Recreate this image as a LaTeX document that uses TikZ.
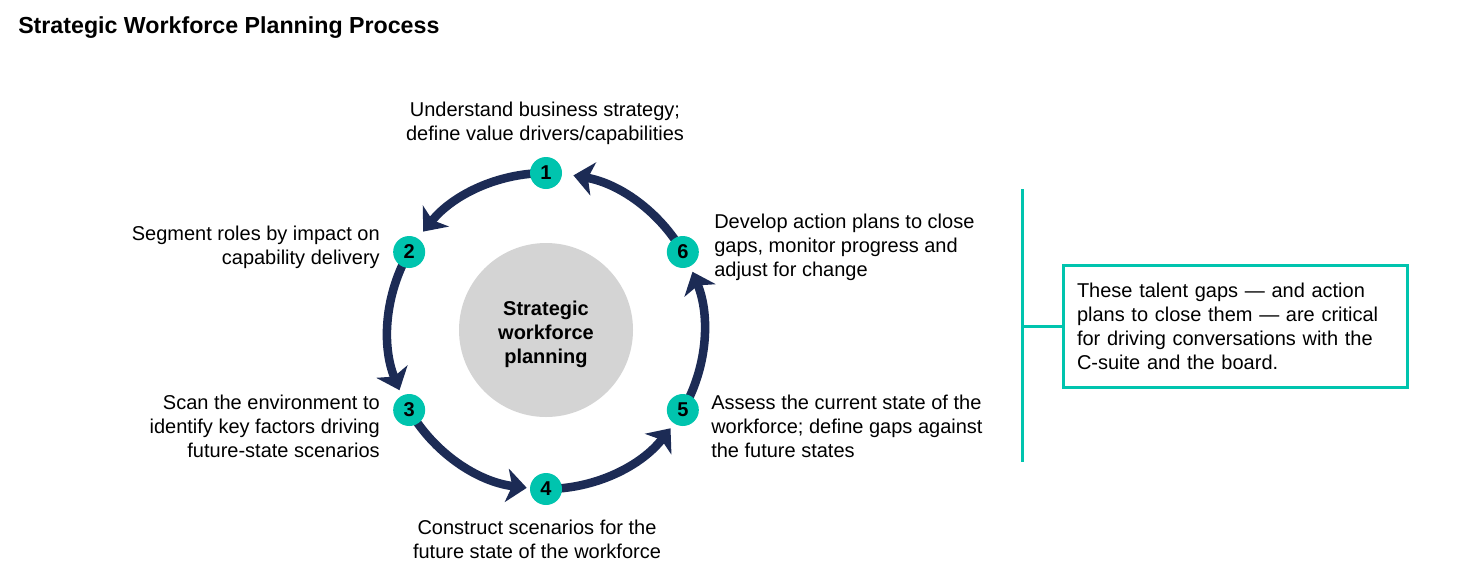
\documentclass[tikz,border=0pt]{standalone}
\usepackage{fontspec}
\setmainfont{Liberation Sans}
\usetikzlibrary{arrows.meta}
\definecolor{tealc}{RGB}{0,196,174}
\definecolor{navyc}{RGB}{28,43,85}
\definecolor{hubgray}{RGB}{212,212,212}
\begin{document}
\begin{tikzpicture}[x=0.75pt,y=-0.75pt,
  every node/.style={font=\fontsize{15}{18}\selectfont, inner sep=0pt},
  marker/.style={circle, fill=tealc, minimum size=24pt, font=\fontsize{15}{18}\selectfont\bfseries},
  hub/.style={circle, fill=hubgray, minimum size=130.5pt, align=center, font=\fontsize{15}{18}\selectfont\bfseries},
  flow/.style={navyc, line width=6.4pt, -{Stealth[length=15pt,width=25pt,inset=4pt]}},
  lblr/.style={align=right, anchor=east},
  lbll/.style={align=left, anchor=west},
  lblc/.style={align=center},
  notebox/.style={draw=tealc, line width=2.25pt, text width=237pt, align=left, inner xsep=10.5pt, minimum height=91.5pt},
  bracket/.style={draw=tealc, line width=2.25pt}
]
\useasboundingbox[fill=white] (0,0) rectangle (1466,572);
\node[anchor=base west, font=\fontsize{17.4}{20}\selectfont\bfseries] (title) at (18,33) {Strategic Workforce Planning Process};

\coordinate (c) at (546,331);
\node[hub] (hubn) at (546,330) {};
\node[align=center, font=\fontsize{15}{18}\selectfont\bfseries] (hubt) at (546,334) {Strategic\\workforce\\planning};

\path (c) ++(90:118.5pt) coordinate (p1);
\path (c) ++(150:118.5pt) coordinate (p2);
\path (c) ++(210:118.5pt) coordinate (p3);
\path (c) ++(270:118.5pt) coordinate (p4);
\path (c) ++(330:118.5pt) coordinate (p5);
\path (c) ++(30:118.5pt) coordinate (p6);

\draw[flow] (p1) arc[start angle=90, end angle=141, radius=118.5pt];
\draw[flow] (p2) arc[start angle=150, end angle=202, radius=118.5pt];
\draw[flow] (p3) arc[start angle=210, end angle=263, radius=118.5pt];
\draw[flow] (p4) arc[start angle=270, end angle=322, radius=118.5pt];
\draw[flow] (p5) arc[start angle=330, end angle=382, radius=118.5pt];
\draw[flow] (p6) arc[start angle=30, end angle=80, radius=118.5pt];

\node[marker] (m1) at (p1) {1};
\node[marker] (m2) at (p2) {2};
\node[marker] (m3) at (p3) {3};
\node[marker] (m4) at (p4) {4};
\node[marker] (m5) at (p5) {5};
\node[marker] (m6) at (p6) {6};

\node[lblc] (l1) at (545,123) {Understand business strategy;\\define value drivers/capabilities};
\node[lblr] (l2) at (380,247) {Segment roles by impact on\\capability delivery};
\node[lblr] (l3) at (380,426) {Scan the environment to\\identify key factors driving\\future-state scenarios};
\node[lblc] (l4) at (537,539) {Construct scenarios for the\\future state of the workforce};
\node[lbll] (l5) at (711,426) {Assess the current state of the\\workforce; define gaps against\\the future states};
\node[lbll] (l6) at (714,247) {Develop action plans to close\\gaps, monitor progress and\\adjust for change};

\node[notebox] (note) at (1235,326) {These talent gaps — and action\\plans to close them — are critical\\for driving conversations with the\\C-suite and the board.};
\coordinate (bt) at (1022,189);
\coordinate (bb) at (1022,462);
\coordinate (bm) at (1022,326);
\draw[bracket] (bt) -- (bb);
\draw[bracket] (bm) -- (note.west);
\end{tikzpicture}
\end{document}
